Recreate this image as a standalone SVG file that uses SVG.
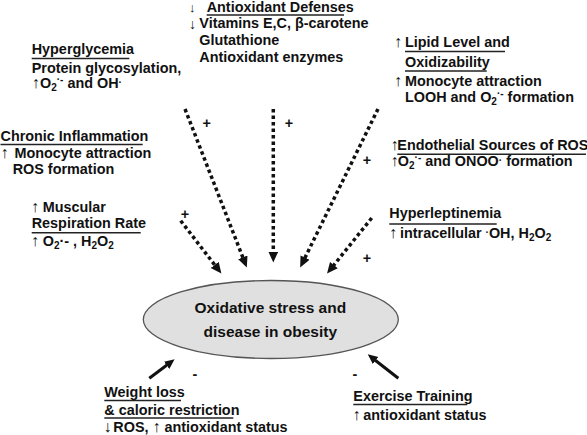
<svg xmlns="http://www.w3.org/2000/svg" width="587" height="435" viewBox="0 0 587 435">
<defs>
<style>
text{font-family:"Liberation Sans",Arial,sans-serif;font-weight:bold;font-size:14.4px;fill:#111}
.a{font-weight:normal;font-size:16px}
.s{font-size:10px}
.ul{stroke:#222;stroke-width:1.5}
.dot{fill:none;stroke:#111;stroke-width:3.5;stroke-dasharray:3.5 3}
.sol{fill:none;stroke:#111;stroke-width:3}
.sign{text-anchor:middle}
</style>
<marker id="ah" markerUnits="userSpaceOnUse" markerWidth="12" markerHeight="11" refX="0.5" refY="5" orient="auto"><path d="M0,0 L11,5 L0,10 z" fill="#111"/></marker>
<marker id="as" markerUnits="userSpaceOnUse" markerWidth="11" markerHeight="10" refX="0.5" refY="4.5" orient="auto"><path d="M0,0 L10,4.5 L0,9 z" fill="#111"/></marker>
</defs>
<rect width="587" height="435" fill="#fff"/>

<g id="connectors">
<line class="dot" x1="185" y1="109" x2="243" y2="257.8" marker-end="url(#ah)"/>
<line class="dot" x1="273.3" y1="109" x2="273.3" y2="252" marker-end="url(#ah)"/>
<line class="dot" x1="378" y1="109" x2="304.8" y2="258.1" marker-end="url(#ah)"/>
<line class="dot" x1="180.7" y1="220.7" x2="215" y2="265.3" marker-end="url(#ah)"/>
<line class="dot" x1="371.7" y1="218" x2="333.6" y2="265.4" marker-end="url(#ah)"/>
<line class="sol" x1="149.3" y1="378.3" x2="167" y2="365" marker-end="url(#as)"/>
<line class="sol" x1="398.3" y1="378.3" x2="375.2" y2="360.2" marker-end="url(#as)"/>
<text class="sign" x="206.7" y="128">+</text>
<text class="sign" x="289" y="128">+</text>
<text class="sign" x="367" y="165">+</text>
<text class="sign" x="185" y="219">+</text>
<text class="sign" x="367" y="262.7">+</text>
<text class="sign" x="195" y="379">-</text>
<text class="sign" x="355" y="379">-</text>
</g>

<g id="hyperglycemia">
<text x="31.7" y="54">Hyperglycemia</text>
<line class="ul" x1="31.7" y1="58.5" x2="129.3" y2="58.5"/>
<text x="31.7" y="72.5">Protein glycosylation,</text>
<text x="31.7" y="88"><tspan class="a">↑</tspan><tspan x="40">O</tspan><tspan class="s" dy="3">2</tspan><tspan class="s" dy="-8">·-</tspan><tspan dy="5"> and OH</tspan><tspan class="s" dy="-2">·</tspan></text>
</g>

<g id="antioxidant-defenses">
<text x="189" y="12" style="font-weight:normal;font-size:13px">↓</text>
<text x="206.7" y="12">Antioxidant Defenses</text>
<line class="ul" x1="206.7" y1="15" x2="344" y2="15"/>
<text x="189" y="28.5" style="font-weight:normal;font-size:14px">↓</text>
<text x="199.3" y="28">Vitamins E,C, β-carotene</text>
<text x="199.3" y="45">Glutathione</text>
<text x="199.3" y="61.7">Antioxidant enzymes</text>
</g>

<g id="lipid-level">
<text x="394" y="46.5"><tspan class="a">↑</tspan><tspan x="405">Lipid Level and</tspan></text>
<line class="ul" x1="405" y1="51.5" x2="505" y2="51.5"/>
<text x="405" y="66.5">Oxidizability</text>
<line class="ul" x1="405" y1="71" x2="486.7" y2="71"/>
<text x="394" y="86"><tspan class="a">↑</tspan><tspan x="405">Monocyte attraction</tspan></text>
<text x="405" y="101.5">LOOH and O<tspan class="s" dy="3">2</tspan><tspan class="s" dy="-8">·-</tspan><tspan dy="5"> formation</tspan></text>
</g>

<g id="chronic-inflammation">
<text x="0.5" y="141">Chronic Inflammation</text>
<line class="ul" x1="0.5" y1="144.5" x2="142.7" y2="144.5"/>
<text x="0.5" y="157.5"><tspan class="a">↑</tspan><tspan x="14.5">Monocyte attraction</tspan></text>
<text x="12.7" y="174">ROS formation</text>
</g>

<g id="endothelial">
<text x="390.5" y="150"><tspan class="a">↑</tspan><tspan x="397.3">Endothelial Sources of ROS</tspan></text>
<line class="ul" x1="397.3" y1="154.3" x2="586" y2="154.3"/>
<text x="390.5" y="166"><tspan class="a">↑</tspan><tspan x="397.8">O</tspan><tspan class="s" dy="3">2</tspan><tspan class="s" dy="-8">·-</tspan><tspan dy="5"> and ONOO</tspan><tspan class="s" dy="-2">·</tspan><tspan dy="2">  formation</tspan></text>
</g>

<g id="muscular">
<text x="31" y="211.7"><tspan class="a">↑</tspan><tspan x="42.7">Muscular</tspan></text>
<text x="31.7" y="228.3">Respiration Rate</text>
<line class="ul" x1="31.7" y1="232.7" x2="140.7" y2="232.7"/>
<text x="31" y="245.5"><tspan class="a">↑</tspan><tspan x="42.7">O</tspan><tspan class="s" dy="3">2</tspan><tspan dy="-3">·- , H</tspan><tspan class="s" dy="3">2</tspan><tspan dy="-3">O</tspan><tspan class="s" dy="3">2</tspan></text>
</g>

<g id="hyperleptinemia">
<text x="389.3" y="218.3">Hyperleptinemia</text>
<line class="ul" x1="389.3" y1="224" x2="496.7" y2="224"/>
<text x="389" y="237.5"><tspan class="a">↑</tspan><tspan x="400">intracellular </tspan><tspan class="s" dy="-2">·</tspan><tspan dy="2">OH, H</tspan><tspan class="s" dy="3">2</tspan><tspan dy="-3">O</tspan><tspan class="s" dy="3">2</tspan></text>
</g>

<g id="oxidative-stress">
<ellipse cx="270.8" cy="319.5" rx="127.5" ry="39" fill="#e0e0e0" stroke="#555" stroke-width="1.3"/>
<text x="270.3" y="312.5" text-anchor="middle" style="font-size:15.5px">Oxidative stress and</text>
<text x="270.3" y="337" text-anchor="middle" style="font-size:15.5px">disease in obesity</text>
</g>

<g id="weight-loss">
<text x="104.3" y="396.7">Weight loss</text>
<line class="ul" x1="104.3" y1="400.5" x2="181" y2="400.5"/>
<text x="104.3" y="414.5">&amp; caloric restriction</text>
<line class="ul" x1="104.3" y1="418" x2="233.3" y2="418"/>
<text x="103.5" y="431.5"><tspan class="a">↓</tspan><tspan x="113.3">ROS, </tspan><tspan class="a">↑</tspan><tspan> antioxidant status</tspan></text>
</g>

<g id="exercise-training">
<text x="353.3" y="400.5">Exercise Training</text>
<line class="ul" x1="353.3" y1="404.5" x2="467.3" y2="404.5"/>
<text x="352.5" y="420"><tspan class="a">↑</tspan><tspan x="363.3">antioxidant status</tspan></text>
</g>
</svg>
